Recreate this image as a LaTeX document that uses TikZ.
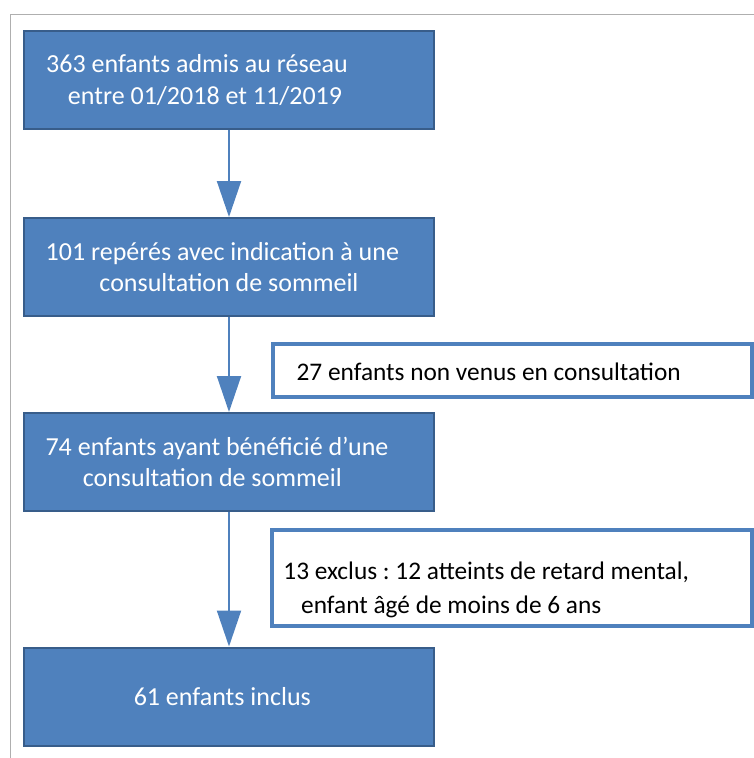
\documentclass[tikz,border=0pt]{standalone}
\usepackage{fontspec}
\setmainfont{Carlito}
\usetikzlibrary{arrows.meta}

\definecolor{boxblue}{RGB}{79,129,189}
\definecolor{boxedge}{RGB}{56,93,138}
\definecolor{framegray}{RGB}{175,175,175}

\tikzset{every picture/.style={line width=0.75pt}}
\tikzset{
	bluebox/.style={draw=boxedge, line width=1.5pt, fill=boxblue, text=white, align=center,
		minimum width=307.5pt, minimum height=73.5pt, inner sep=0pt,
		font=\fontsize{19.5}{23.5}\selectfont},
	notebox/.style={draw=boxblue, line width=2.6pt, fill=white, inner sep=0pt},
	notetext/.style={align=left, inner sep=0pt, anchor=north west,
		font=\fontsize{19}{25}\selectfont},
	flowarrow/.style={draw=boxblue, line width=1.5pt,
		-{Triangle[width=18pt,length=27pt]}}
}

\begin{document}
\frenchspacing
\begin{tikzpicture}[x=0.75pt,y=0.75pt,yscale=-1,xscale=1]
		\useasboundingbox (0,0) rectangle (754,758);

		%Frame lines
		\draw [framegray]  (10.5,758) -- (10.5,14.5) -- (754,14.5) ;

		%Shape: Rectangle [main boxes]
		\node [bluebox] (admis) at (229,80) {363 enfants admis au réseau\hspace*{48pt}\\entre 01/2018 et 11/2019\hspace*{36pt}};
		\node [bluebox] (reperes) at (229,267) {101 repérés avec indication à une\hspace*{10pt}\\consultation de sommeil};
		\node [bluebox] (consult) at (229,462) {74 enfants ayant bénéficié d’une\hspace*{18pt}\\consultation de sommeil\hspace*{25pt}};
		\node [bluebox] (inclus) at (229,696.5) {61 enfants inclus\hspace*{10pt}};

		%Shape: Rectangle [side boxes]
		\node [notebox, minimum width=359pt, minimum height=39.75pt] (nonvenus) at (512.5,370.5) {};
		\node [notebox, minimum width=360pt, minimum height=72pt] (exclus) at (512,578) {};

		% Text Node
		\node [notetext] (nonvenustext) at ([xshift=18.5pt,yshift=15pt]nonvenus.north west) {27 enfants non venus en consultation};
		\node [notetext] (exclustext) at ([xshift=9.5pt,yshift=25pt]exclus.north west) {13 exclus : 12 atteints de retard mental,\\\hspace*{0.7em}enfant âgé de moins de 6 ans};

		%Straight Lines
		\draw [flowarrow] (admis) -- (reperes) ;
		\draw [flowarrow] (reperes) -- (consult) ;
		\draw [flowarrow] (consult) -- (inclus) ;

\end{tikzpicture}
\end{document}
